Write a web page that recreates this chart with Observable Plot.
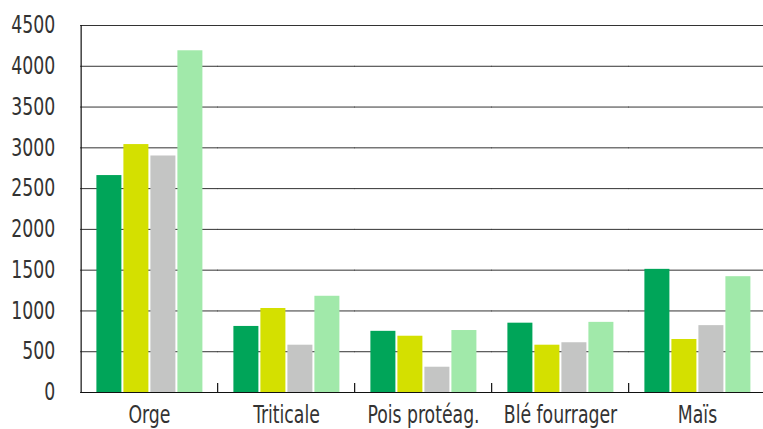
<!DOCTYPE html>
<html>
<head>
<meta charset="utf-8">
<script src="https://cdn.jsdelivr.net/npm/d3@7"></script>
<script src="https://cdn.jsdelivr.net/npm/@observablehq/plot@0.6"></script>
<style>
  html, body { margin: 0; padding: 0; background: #fff; overflow: hidden; }
  #chart svg { display: block; }
</style>
</head>
<body>
<div id="chart"></div>
<script>
const categories = ["Orge", "Triticale", "Pois protéag.", "Blé fourrager", "Maïs"];
const seriesNames = ["Série 1", "Série 2", "Série 3", "Série 4"];
const serie1 = [2660, 810, 750, 850, 1510];
const serie2 = [3040, 1030, 690, 580, 650];
const serie3 = [2900, 580, 310, 610, 820];
const serie4 = [4190, 1180, 760, 860, 1420];
const seriesValues = [serie1, serie2, serie3, serie4];
const colors = ["#00a559", "#d4e000", "#c4c5c4", "#a1e9aa"];
const yTicks = [0, 500, 1000, 1500, 2000, 2500, 3000, 3500, 4000, 4500];

const data = categories.flatMap((cat, i) =>
  seriesNames.map((s, j) => ({cat, series: s, value: seriesValues[j][i]}))
);

const FONT = "'Liberation Sans Narrow', 'DejaVu Sans Condensed', 'Arial Narrow', sans-serif";
const SQUEEZE = 0.8;

const W = 763, H = 429, mL = 78.6, mR = -4, mT = 25, mB = 37;
const pIn = 0.223, pOut = pIn / 2;
const step = (W - mL - mR) / (categories.length - pIn + 2 * pOut);
const gap = pIn * step;

const plot = Plot.plot({
  width: W,
  height: H,
  marginTop: mT,
  marginBottom: mB,
  marginLeft: mL,
  marginRight: mR,
  style: {fontFamily: FONT, fontSize: "24px", color: "#333", background: "#fff", overflow: "visible"},
  fx: {domain: categories, paddingInner: pIn, paddingOuter: pOut, label: null, tickSize: 0, tickPadding: 13},
  x: {domain: seriesNames, paddingInner: 0.08, paddingOuter: 0, axis: null},
  y: {domain: [0, 4500], axis: null},
  color: {domain: seriesNames, range: colors},
  marks: [
    Plot.ruleY(yTicks.filter(d => d > 0), {y: d => d, stroke: "#333", strokeWidth: 1, insetLeft: -gap / 2 - 0.5, insetRight: -gap / 2 - 0.5}),
    Plot.barY(data, {fx: "cat", x: "series", y: "value", fill: "series"}),
    Plot.ruleY([0], {stroke: "#111", strokeWidth: 1.2, insetLeft: -gap / 2 - 0.5, insetRight: -gap / 2 - 0.5}),
    Plot.frame({anchor: "left", stroke: "#111", strokeWidth: 1.2, insetLeft: -gap / 2, facetAnchor: "left"}),
    Plot.text(yTicks, {y: d => d, text: d => String(d), frameAnchor: "left", textAnchor: "end", dx: -gap / 2 - 26, fill: "#333", facetAnchor: "left"})
  ]
});

document.getElementById("chart").appendChild(plot);

const svg = d3.select(plot.tagName === "svg" ? plot : plot.querySelector("svg"));

// condense the text horizontally around its anchor point (narrow typeface look)
svg.selectAll("text").each(function () {
  for (const a of ["x", "dx"]) {
    const v = this.getAttribute(a);
    if (v !== null && isFinite(+v)) this.setAttribute(a, +v / SQUEEZE);
  }
  const t = this.getAttribute("transform") || "";
  this.setAttribute("transform", `${t} scale(${SQUEEZE},1)`);
});

// separator ticks between category groups, positioned from the fx scale
const fx = plot.scale("fx");
const y = plot.scale("y");
const y0 = y.apply(0);
svg.append("g")
  .attr("stroke", "#111")
  .attr("stroke-width", 1.2)
  .selectAll("line")
  .data(categories.slice(1))
  .join("line")
  .attr("x1", d => fx.apply(d) - gap / 2)
  .attr("x2", d => fx.apply(d) - gap / 2)
  .attr("y1", y0 - 9)
  .attr("y2", y0);
</script>
</body>
</html>
